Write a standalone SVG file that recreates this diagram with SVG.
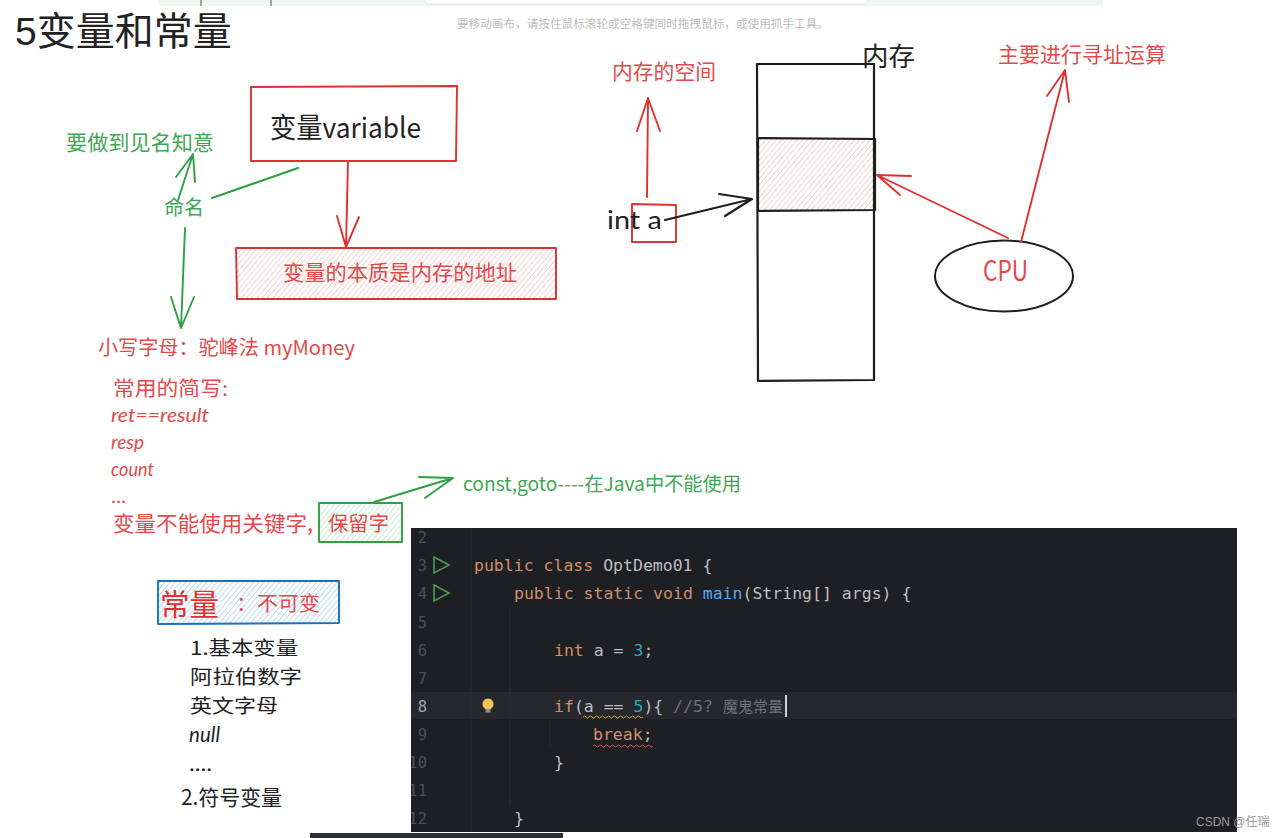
<svg xmlns="http://www.w3.org/2000/svg" width="1280" height="838" viewBox="0 0 1280 838">
<style>
text{font-family:"Noto Sans CJK SC","Lato",sans-serif;font-weight:400}
.r{fill:#e24a4a}.g{fill:#3fa653}.k{fill:#222}
.hw{font-family:"Lato","Noto Sans CJK SC",sans-serif}
.sr{stroke:#e03131}.sg{stroke:#2f9e44}.sk{stroke:#1e1e1e}.sb{stroke:#1971c2}
.ln{fill:none;stroke-width:1.9;stroke-linecap:round;stroke-linejoin:round}
.code{font-family:"DejaVu Sans Mono","Liberation Mono",monospace;font-size:16.5px;fill:#bcbec4;white-space:pre}
.kw{fill:#cf8e6d}.num{fill:#2aacb8}.fn{fill:#56a8f5}.cm{fill:#6f737a}
.no{font-family:"DejaVu Sans Mono",monospace;font-size:15.5px;fill:#4b5059}
</style>
<defs>
<pattern id="hr" width="4" height="4" patternUnits="userSpaceOnUse" patternTransform="rotate(40)"><rect width="4" height="4" fill="#fff"/><line x1="0" y1="0" x2="0" y2="4" stroke="#f6bcbc" stroke-width="1.4"/></pattern>
<pattern id="hg" width="4" height="4" patternUnits="userSpaceOnUse" patternTransform="rotate(40)"><rect width="4" height="4" fill="#fff"/><line x1="0" y1="0" x2="0" y2="4" stroke="#b5e0bf" stroke-width="1.4"/></pattern>
<pattern id="hb" width="4" height="4" patternUnits="userSpaceOnUse" patternTransform="rotate(40)"><rect width="4" height="4" fill="#fff"/><line x1="0" y1="0" x2="0" y2="4" stroke="#a9d2f2" stroke-width="1.6"/></pattern>
<clipPath id="panel"><rect x="411" y="528" width="826" height="304"/></clipPath>
</defs>
<rect width="1280" height="838" fill="#fff"/>

<g id="toolbar">
<rect x="159" y="0" width="944" height="6" fill="#eef6f1"/>
<line x1="201" y1="0" x2="201" y2="6" stroke="#555"/>
<line x1="271" y1="0" x2="271" y2="6" stroke="#555"/>
<rect x="424" y="-10" width="444" height="14" rx="5" fill="#fff" stroke="#e8e8e8"/>
<text x="457" y="28" font-size="11.5" fill="#bdbdbd" textLength="372" lengthAdjust="spacingAndGlyphs">要移动画布，请按住鼠标滚轮或空格键同时拖拽鼠标，或使用抓手工具。</text>
</g>

<g id="title"><text x="15" y="45" font-size="39" fill="#222" style="font-family:'Liberation Sans','Noto Sans CJK SC',sans-serif">5变量和常量</text></g>

<g id="variable-box">
<path class="ln sr" d="M251 87L457 86L456 161L251 161Z"/>
<text class="k" x="270" y="138" font-size="28" textLength="151" lengthAdjust="spacingAndGlyphs">变量variable</text>
</g>
<g id="essence-box">
<rect x="237" y="248" width="319" height="51" fill="url(#hr)"/>
<path class="ln sr" d="M236 248L556 248L556 299L237 299Z"/>
<text class="r" x="283" y="280" font-size="21" textLength="234" lengthAdjust="spacingAndGlyphs">变量的本质是内存的地址</text>
</g>
<g id="naming-goal"><text class="g" x="66" y="150" font-size="21" textLength="148" lengthAdjust="spacingAndGlyphs">要做到见名知意</text></g>
<g id="naming"><text class="g" x="164" y="215" font-size="20" textLength="40" lengthAdjust="spacingAndGlyphs">命名</text></g>
<g id="camel"><text class="r" x="98" y="355" font-size="20" textLength="257" lengthAdjust="spacingAndGlyphs">小写字母：驼峰法 myMoney</text></g>
<g id="abbrev">
<text class="r" x="113" y="396" font-size="20" textLength="115" lengthAdjust="spacingAndGlyphs">常用的简写:</text>
<text class="r hw" x="111" y="422" font-size="19" font-style="italic" textLength="98" lengthAdjust="spacingAndGlyphs">ret==result</text>
<text class="r hw" x="111" y="449" font-size="19" font-style="italic" textLength="33" lengthAdjust="spacingAndGlyphs">resp</text>
<text class="r hw" x="111" y="476" font-size="19" font-style="italic" textLength="43" lengthAdjust="spacingAndGlyphs">count</text>
<text class="r hw" x="111" y="503" font-size="19" textLength="15" lengthAdjust="spacingAndGlyphs">...</text>
<text class="r" x="113" y="531" font-size="21" textLength="200" lengthAdjust="spacingAndGlyphs">变量不能使用关键字,</text>
</g>
<g id="reserved-box">
<rect x="319" y="503" width="83" height="39" fill="url(#hg)"/>
<path class="ln sg" d="M319 503L402 503L402 542L319 542Z"/>
<text class="r" x="328" y="531" font-size="20.500" textLength="61" lengthAdjust="spacingAndGlyphs">保留字</text>
</g>
<g id="reserved-note"><text class="g" x="463" y="491" font-size="19" textLength="278" lengthAdjust="spacingAndGlyphs">const,goto----在Java中不能使用</text></g>
<g id="constant-box">
<rect x="158" y="581" width="181" height="43" fill="url(#hb)"/>
<path class="ln sb" d="M158 581L339 581L339 623L158 624Z"/>
<text x="160" y="615" font-size="30" fill="#e03131" textLength="59" lengthAdjust="spacingAndGlyphs">常量</text>
<text class="r" x="236" y="611" font-size="20" textLength="84" lengthAdjust="spacingAndGlyphs">：不可变</text>
</g>
<g id="constant-list">
<text class="k" x="190" y="655" font-size="19" textLength="108" lengthAdjust="spacingAndGlyphs">1.基本变量</text>
<text class="k" x="190" y="684" font-size="19" textLength="112" lengthAdjust="spacingAndGlyphs">阿拉伯数字</text>
<text class="k" x="190" y="713" font-size="19" textLength="88" lengthAdjust="spacingAndGlyphs">英文字母</text>
<text class="k hw" x="189" y="742" font-size="21" font-style="italic" textLength="31" lengthAdjust="spacingAndGlyphs">null</text>
<text class="k hw" x="189" y="771" font-size="21" textLength="23" lengthAdjust="spacingAndGlyphs">....</text>
<text class="k" x="181" y="805" font-size="21" textLength="101" lengthAdjust="spacingAndGlyphs">2.符号变量</text>
</g>

<g id="memory">
<rect x="758" y="138" width="116" height="73" fill="url(#hr)"/>
<path class="ln sk" style="stroke-width:2.2" d="M757 64L874 64L874 380L758 381Z"/>
<path class="ln sk" style="stroke-width:2.2" d="M758 138L875 139L875 210L758 211L758 138"/>
<text class="k" x="862" y="66" font-size="26" textLength="53" lengthAdjust="spacingAndGlyphs">内存</text>
</g>
<g id="memory-space"><text class="r" x="612" y="79" font-size="21" textLength="104" lengthAdjust="spacingAndGlyphs">内存的空间</text></g>
<g id="int-a">
<path class="ln sr" d="M632 204L676 205L676 242L632 242Z"/>
<text class="k hw" x="607" y="229" font-size="25" textLength="55" lengthAdjust="spacingAndGlyphs">int a</text>
</g>
<g id="cpu">
<ellipse cx="1004" cy="276" rx="69" ry="35.500" fill="#fff" stroke="#1e1e1e" stroke-width="2"/>
<text class="r" x="983" y="281" font-size="28" textLength="45" lengthAdjust="spacingAndGlyphs">CPU</text>
</g>
<g id="addressing"><text class="r" x="998" y="62" font-size="21" textLength="168" lengthAdjust="spacingAndGlyphs">主要进行寻址运算</text></g>

<g id="connectors">
<path class="ln sr" d="M348 161L346 247M337 216L346 247L359 217"/>
<path class="ln sg" d="M178 200L193 154M176 177L193 154L195 182"/>
<path class="ln sg" style="stroke-width:2.2" d="M212 198L298 168"/>
<path class="ln sg" d="M185 228L181 328M171 297L181 328L194 297"/>
<path class="ln sg" d="M374 502L453 478M419 477L453 478L425 498"/>
<path class="ln sr" d="M647 197L648 98M637 131L648 98L660 131"/>
<path class="ln sk" style="stroke-width:2.2" d="M665 220L752 199M719 194L752 199L725 216"/>
<path class="ln sr" d="M1008 238L877 175M911 176L877 175L900 195"/>
<path class="ln sr" d="M1021 242L1065 70M1047 96L1065 70L1069 102"/>
</g>

<g id="code-panel">
<rect x="411" y="528" width="826" height="304" fill="#1e1f22"/>
<rect x="411" y="692" width="826" height="27" fill="#26282d"/>
<line x1="471" y1="528" x2="471" y2="832" stroke="#2b2d30"/>
<line x1="510" y1="608" x2="510" y2="805" stroke="#2b2d30"/>
<line x1="550" y1="720" x2="550" y2="747" stroke="#2b2d30"/>
<g text-anchor="end" clip-path="url(#panel)">
<text class="no" x="427" y="543">2</text><text class="no" x="427" y="571">3</text><text class="no" x="427" y="599">4</text><text class="no" x="427" y="628">5</text><text class="no" x="427" y="656">6</text><text class="no" x="427" y="684">7</text>
<text class="no" x="427" y="712" style="fill:#a1a3ab">8</text>
<text class="no" x="427" y="740">9</text><text class="no" x="427" y="768">10</text><text class="no" x="427" y="796">11</text><text class="no" x="427" y="824">12</text>
</g>
<path d="M434 557L449 565L434 573Z" fill="none" stroke="#4a9a55" stroke-width="1.600"/>
<path d="M434 585L449 593L434 601Z" fill="none" stroke="#4a9a55" stroke-width="1.600"/>
<circle cx="488" cy="704" r="5.500" fill="#f2c55c"/><rect x="485.500" y="709" width="5" height="3.500" fill="#8a8f96"/>
<text class="code" x="474" y="571"><tspan class="kw">public class </tspan>OptDemo01 {</text>
<text class="code" x="514" y="599"><tspan class="kw">public static void </tspan><tspan class="fn">main</tspan>(String[] args) {</text>
<text class="code" x="554" y="656"><tspan class="kw">int </tspan>a = <tspan class="num">3</tspan>;</text>
<text class="code" x="554" y="712"><tspan class="kw">if</tspan>(a == <tspan class="num">5</tspan>){ <tspan class="cm">//5? </tspan><tspan class="cm" style="font-family:'Noto Sans CJK SC',sans-serif;font-size:15px">魔鬼常量</tspan></text>
<text class="code" x="593" y="740"><tspan class="kw">break</tspan>;</text>
<text class="code" x="554" y="768">}</text>
<text class="code" x="514" y="824">}</text>
<rect x="785" y="695" width="2" height="22" fill="#ced0d6"/>
<path d="M583 717q1.500-2 3 0t3 0t3 0t3 0t3 0t3 0t3 0t3 0t3 0t3 0t3 0t3 0t3 0t3 0t3 0t3 0t3 0t3 0t3 0t3 0" fill="none" stroke="#c9a13a"/>
<path d="M593 746q1.500-2 3 0t3 0t3 0t3 0t3 0t3 0t3 0t3 0t3 0t3 0t3 0t3 0t3 0t3 0t3 0t3 0t3 0t3 0t3 0t3 0" fill="none" stroke="#d9565a"/>
</g>
<g id="bottom-strip"><rect x="310" y="833" width="253" height="5" fill="#2b2d30"/></g>
<g id="watermark"><text x="1196" y="826" font-size="12" fill="#9a9a9a" style="font-family:'Liberation Sans','Noto Sans CJK SC',sans-serif">CSDN @任瑞</text></g>
</svg>
